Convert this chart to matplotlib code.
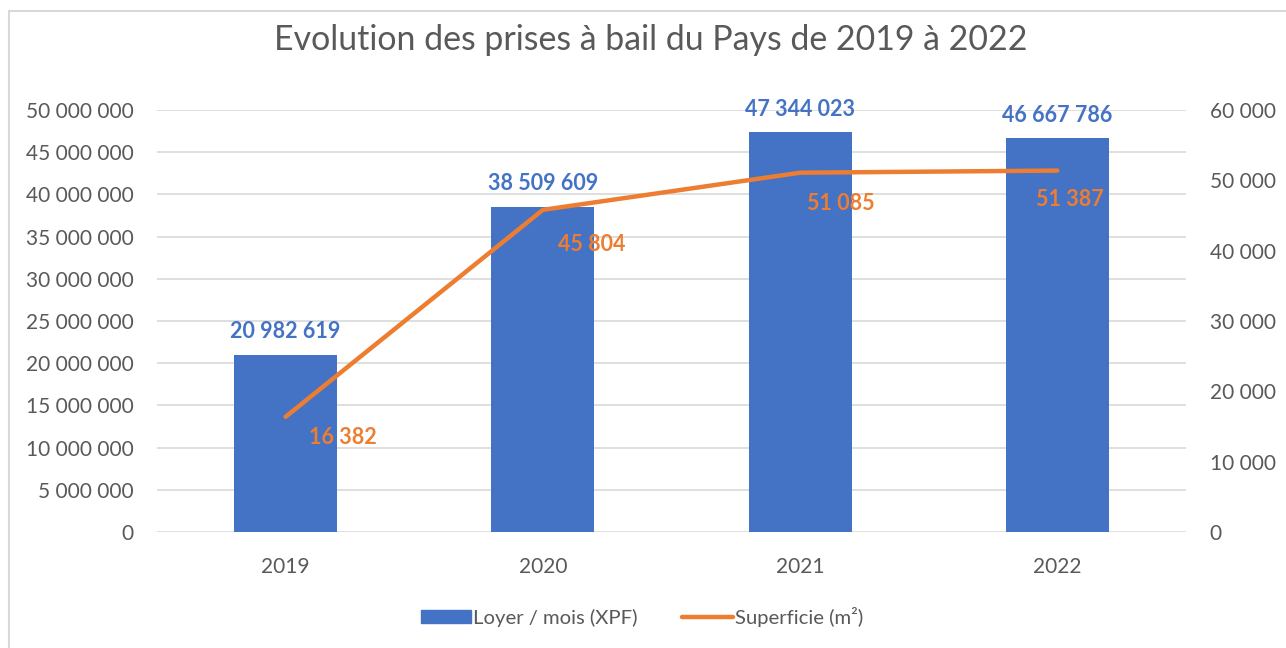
import matplotlib.pyplot as plt
from matplotlib.patches import Rectangle
from matplotlib.lines import Line2D
from matplotlib.ticker import FuncFormatter

annees = ['2019', '2020', '2021', '2022']
loyer = [20982619, 38509609, 47344023, 46667786]
superficie = [16382, 45804, 51085, 51387]

bleu = '#4472C4'
orange = '#ED7D31'
gris = '#595959'

plt.rcParams['font.family'] = ['Lato', 'DejaVu Sans']


def espace(v, pos=None):
    return f"{int(v):,}".replace(',', ' ')


fig = plt.figure(figsize=(12.86, 6.48), dpi=100)
fig.patches.append(Rectangle((9 / 1286, -0.1), 1.2, 1.1 - 11 / 648, transform=fig.transFigure,
                             fill=False, edgecolor='#D9D9D9', linewidth=1.5))

ax = fig.add_axes([157 / 1286, 116 / 648, 1029 / 1286, 422 / 648])
x = range(len(annees))
ax.bar(x, loyer, width=0.4, color=bleu, zorder=2)
ax.set_xlim(-0.5, 3.5)
ax.set_ylim(0, 50000000)
ax.set_yticks(range(0, 50000001, 5000000))
ax.yaxis.set_major_formatter(FuncFormatter(espace))
ax.set_xticks(list(x))
ax.set_xticklabels(annees)
ax.grid(axis='y', color='#D9D9D9', linewidth=1.2, zorder=0)
for s in ax.spines.values():
    s.set_visible(False)
ax.tick_params(length=0, labelsize=15, labelcolor=gris, pad=17)
ax.tick_params(axis='x', pad=18)

for i, v in enumerate(loyer):
    ax.annotate(espace(v), (i, v), xytext=(0, 9), textcoords='offset points',
                ha='center', va='bottom', color=bleu, fontsize=15.5, fontweight='bold')

ax2 = ax.twinx()
ax2.plot(x, superficie, color=orange, linewidth=3.2, solid_capstyle='round', zorder=3)
ax2.set_ylim(0, 60000)
ax2.set_yticks(range(0, 60001, 10000))
ax2.yaxis.set_major_formatter(FuncFormatter(espace))
for s in ax2.spines.values():
    s.set_visible(False)
ax2.tick_params(length=0, labelsize=15, labelcolor=gris, pad=17)

decal = [(41, -15), (35, -25), (29, -22), (9, -21)]
for i, v in enumerate(superficie):
    ax2.annotate(espace(v), (i, v), xytext=decal[i], textcoords='offset points',
                 ha='center', va='center', color=orange, fontsize=15.5, fontweight='bold')

fig.text(651 / 1286, 1 - 40 / 648, 'Evolution des prises à bail du Pays de 2019 à 2022',
         ha='center', va='center', fontsize=24.4, color=gris)

poignees = [Rectangle((0, 0), 1, 1, color=bleu),
            Line2D([0], [0], color=orange, linewidth=3.2, solid_capstyle='round')]
fig.legend(poignees, ['Loyer / mois (XPF)', 'Superficie (m²)'], loc='center',
           bbox_to_anchor=(642 / 1286, 1 - 617 / 648), ncol=2, frameon=False,
           fontsize=14.6, labelcolor=gris, handlelength=2.5, handleheight=0.6,
           handletextpad=0.1, columnspacing=2.2)

fig.savefig('out.png', dpi=100)
